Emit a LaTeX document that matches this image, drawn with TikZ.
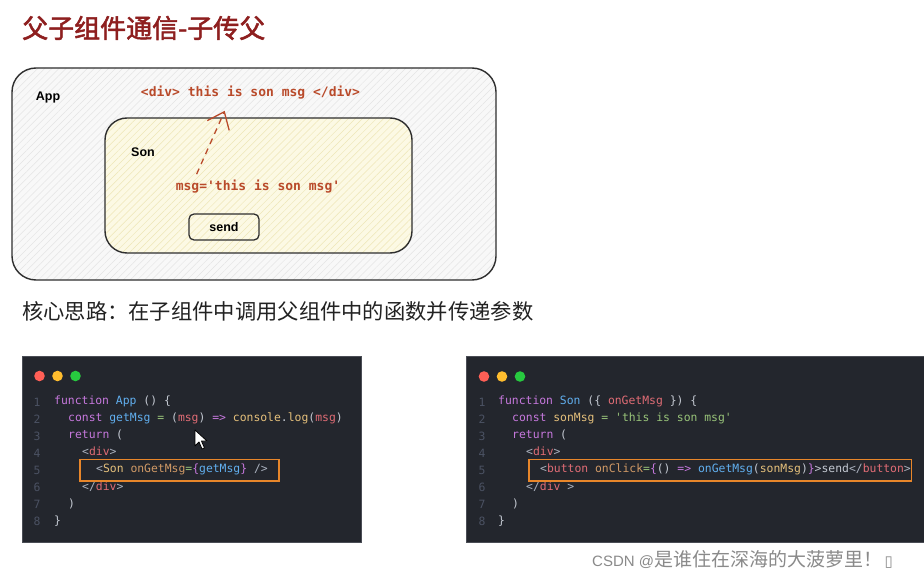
\documentclass[tikz,border=0pt]{standalone}
\usepackage{fontspec}
\usepackage{xcolor}
\usepackage{tikz}
\usetikzlibrary{arrows.meta, positioning, calc, patterns.meta}

\setmainfont{Liberation Sans}
\newfontfamily\cjk{Noto Sans CJK SC}
\newfontfamily\cjkbold{Noto Sans CJK SC}[FakeBold=2]
\newfontfamily\codefont{DejaVu Sans Mono}
\newfontfamily\symfont{DejaVu Sans}

\definecolor{titlered}{HTML}{8E1F1F}
\definecolor{subgray}{HTML}{222222}
\definecolor{rust}{HTML}{B94A2A}
\definecolor{boxline}{HTML}{2E2E2E}
\definecolor{appfill}{HTML}{F8F8F8}
\definecolor{apphatch}{HTML}{E4E4E4}
\definecolor{sonfill}{HTML}{FCF9E4}
\definecolor{sonhatch}{HTML}{EEE6B6}
\definecolor{codebg}{HTML}{23262D}
\definecolor{panelline}{HTML}{4A4D55}
\definecolor{linenum}{HTML}{4B5263}
\definecolor{cplain}{HTML}{C4C9D2}
\definecolor{cpurple}{HTML}{C678DD}
\definecolor{cblue}{HTML}{61AFEF}
\definecolor{cred}{HTML}{E06C75}
\definecolor{cyellow}{HTML}{E5C07B}
\definecolor{corange}{HTML}{D19A66}
\definecolor{cgreen}{HTML}{98C379}
\definecolor{cpunct}{HTML}{ABB2BF}
\definecolor{hlorange}{HTML}{E8862A}
\definecolor{tlred}{HTML}{FF5F56}
\definecolor{tlyellow}{HTML}{FFBD2E}
\definecolor{tlgreen}{HTML}{27C93F}
\definecolor{wmgray}{HTML}{8A8A8A}

% syntax colours
\newcommand\ckw[1]{\textcolor{cpurple}{#1}}
\newcommand\cfn[1]{\textcolor{cblue}{#1}}
\newcommand\cvar[1]{\textcolor{cred}{#1}}
\newcommand\ccls[1]{\textcolor{cyellow}{#1}}
\newcommand\catt[1]{\textcolor{corange}{#1}}
\newcommand\cop[1]{\textcolor{cgreen}{#1}}
\newcommand\cpun[1]{\textcolor{cpunct}{#1}}

\tikzset{
  appbox/.style={
    draw=boxline, line width=1.4pt, rounded corners=24pt,
    minimum width=484pt, minimum height=212pt,
    preaction={fill=appfill},
    pattern={Lines[angle=45,distance=5pt,line width=0.5pt]}, pattern color=apphatch
  },
  sonbox/.style={
    draw=boxline, line width=1.4pt, rounded corners=22pt,
    minimum width=307pt, minimum height=135pt,
    preaction={fill=sonfill},
    pattern={Lines[angle=45,distance=5pt,line width=0.5pt]}, pattern color=sonhatch
  },
  btnbox/.style={
    draw=boxline, line width=1.3pt, rounded corners=5pt,
    minimum width=70pt, minimum height=26pt,
    font=\bfseries\fontsize{12.5}{14}\selectfont
  },
  compname/.style={font=\bfseries\fontsize{12.5}{14}\selectfont, text=black},
  msgtext/.style={font=\codefont\bfseries\fontsize{13}{15}\selectfont, text=rust, inner sep=0pt},
  msgarrow/.style={-{Straight Barb[length=15pt,width=24pt]}, draw=rust, line width=1.3pt, dash pattern=on 6pt off 5pt},
  codepanel/.style={draw=panelline, line width=0.6pt, fill=codebg, anchor=north west, inner sep=0pt},
  dot/.style={circle, minimum size=10.6pt, inner sep=0pt},
  lnum/.style={font=\codefont\fontsize{11.4}{13}\selectfont, text=linenum, inner sep=0pt},
  codeline/.style={
    font=\codefont\fontsize{11.4}{13}\selectfont, text=cplain,
    anchor=west, inner sep=0pt, text height=8pt, text depth=3pt
  },
  hlframe/.style={draw=hlorange, line width=1.4pt},
}

\begin{document}
\begin{tikzpicture}[x=1pt, y=-1pt]
  \fill[white] (0,0) rectangle (924,580);
  \useasboundingbox (0,0) rectangle (924,580);

  % Title
  \node[anchor=west, inner sep=0pt, text=titlered, font=\cjkbold\fontsize{26}{30}\selectfont] (title) at (22,28) {父子组件通信-子传父};

  % Components
  \node[appbox] (app) at (254,174) {};
  \node[compname] (applbl) at (48,97) {App};
  \node[sonbox] (son) at (258.5,185.5) {};
  \node[compname] (sonlbl) at (143,152) {Son};
  \node[btnbox] (send) at (224,227) {send};

  \node[msgtext] (divtxt) at (250.5,93) {<div> this is son msg </div>};
  \node[msgtext] (msgtxt) at (258,187) {msg=\textquotesingle this is son msg\textquotesingle};
  \draw[msgarrow] ([xshift=21pt,yshift=6pt]msgtxt.north west) -- ([xshift=84pt,yshift=-11pt]divtxt.south west);

  % Core idea
  \node[anchor=west, inner sep=0pt, text=subgray, font=\cjk\fontsize{21.3}{24}\selectfont] (idea) at (22,311) {核心思路：在子组件中调用父组件中的函数并传递参数};

  % App code
  \node[codepanel, minimum width=339pt, minimum height=186pt] (apppanel) at (22,356) {};
  \node[dot, fill=tlred] (appred) at (39.5,376) {};
  \node[dot, fill=tlyellow] (appyellow) at (57.5,376) {};
  \node[dot, fill=tlgreen] (appgreen) at (75.5,376) {};
  \foreach \n in {1,...,8}
    \node[lnum] (appn\n) at (37,{402+17.1*(\n-1)}) {\n};
  \node[codeline] (appl1) at (54,402) {\ckw{function} \cfn{App} () \{};
  \node[codeline] (appl2) at (68,419.1) {\ckw{const} \cfn{getMsg} \cop{=} (\cvar{msg}) \ckw{=>} \ccls{console}.\ccls{log}(\cvar{msg})};
  \node[codeline] (appl3) at (68,436.2) {\ckw{return} (};
  \node[codeline] (appl4) at (82,453.3) {\cpun{<}\cvar{div}\cpun{>}};
  \node[codeline] (appl5) at (96,470.4) {\cpun{<}\ccls{Son} \catt{onGetMsg}\cop{=}\ckw{\{}\cfn{getMsg}\ckw{\}} \cpun{/>}};
  \node[codeline] (appl6) at (82,487.5) {\cpun{</}\cvar{div}\cpun{>}};
  \node[codeline] (appl7) at (68,504.6) {)};
  \node[codeline] (appl8) at (54,521.7) {\}};
  \draw[hlframe] ([xshift=-16pt,yshift=5pt]appl5.north west) rectangle ([xshift=11pt,yshift=-5pt]appl5.south east);

  % mouse pointer
  \draw[fill=white, draw=black, line width=0.8pt, line join=round]
    (195,430) -- ++(0,16) -- ++(4,-4) -- ++(3,7) -- ++(2.5,-1) -- ++(-3,-7) -- ++(5.5,0) -- cycle;

  % Son code
  \node[codepanel, minimum width=470pt, minimum height=186pt] (sonpanel) at (466,356) {};
  \node[dot, fill=tlred] (sonred) at (484,376.5) {};
  \node[dot, fill=tlyellow] (sonyellow) at (502,376.5) {};
  \node[dot, fill=tlgreen] (songreen) at (520,376.5) {};
  \foreach \n in {1,...,8}
    \node[lnum] (sonn\n) at (482,{402+17.1*(\n-1)}) {\n};
  \node[codeline] (sonl1) at (498,402) {\ckw{function} \cfn{Son} (\{ \cvar{onGetMsg} \}) \{};
  \node[codeline] (sonl2) at (512,419.1) {\ckw{const} \ccls{sonMsg} \cop{=} \cop{\textquotesingle this is son msg\textquotesingle}};
  \node[codeline] (sonl3) at (512,436.2) {\ckw{return} (};
  \node[codeline] (sonl4) at (526,453.3) {\cpun{<}\cvar{div}\cpun{>}};
  \node[codeline] (sonl5) at (540,470.4) {\cpun{<}\cvar{button} \catt{onClick}\cop{=}\ckw{\{}() \ckw{=>} \cfn{onGetMsg}(\ccls{sonMsg})\ckw{\}}>send\cpun{</}\cvar{button}\cpun{>}};
  \node[codeline] (sonl6) at (526,487.5) {\cpun{</}\cvar{div} \cpun{>}};
  \node[codeline] (sonl7) at (512,504.6) {)};
  \node[codeline] (sonl8) at (498,521.7) {\}};
  \draw[hlframe] ([xshift=-11pt,yshift=5pt]sonl5.north west) rectangle ([xshift=0.5pt,yshift=-5pt]sonl5.south east);

  % Watermark
  \node[anchor=west, inner sep=0pt, text=wmgray] (mark) at (592,560)
    {\fontsize{15}{18}\selectfont CSDN @\cjk\fontsize{19}{22}\selectfont 是谁住在深海的大菠萝里！\symfont\fontsize{15}{18}\selectfont\,▯};
\end{tikzpicture}
\end{document}
